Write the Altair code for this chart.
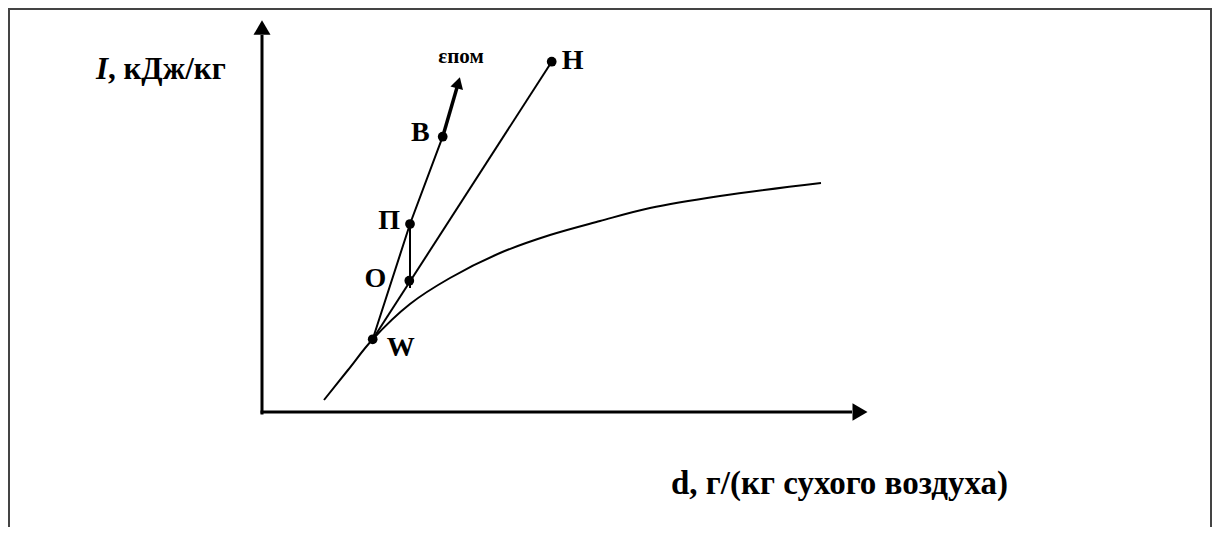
import altair as alt
import pandas as pd

# ---- data (diagram units: d along x, I along y) ----
point_names = ["W", "О", "П", "В", "Н"]
point_d = [11.07, 14.73, 14.80, 18.07, 28.97]
point_I = [7.27, 13.13, 18.80, 27.53, 35.03]

# saturation curve (phi = 100 %)
curve_d = [6.2, 8.6, 11.07, 14.8, 18.8, 23.8, 28.8, 33.8, 38.8, 45.8, 55.9]
curve_I = [1.2, 4.2, 7.27, 10.8, 13.4, 15.9, 17.7, 19.1, 20.4, 21.6, 22.9]

# room process line W -> П -> В and its direction arrow (epsilon)
eps_line_names = ["W", "П", "В"]
eps_arrow_d = [18.07, 19.50]
eps_arrow_I = [27.53, 32.44]
eps_head_d = [19.63]
eps_head_I = [32.92]

# mixing line W -> О -> Н
mix_line_names = ["W", "Н"]

# vertical heating П -> О
heat_d = [14.80, 14.80]
heat_I = [18.80, 12.40]

# axes (origin at 0,0)
y_axis_top = 37.7
y_head_I = 38.45
x_axis_right = 59.0
x_head_d = 59.8

y_title_main = ", кДж/кг"
y_title_sym = "I"
x_title = "d, г/(кг сухого воздуха)"
eps_label = "εпом"

# ---- frames ----
pts = pd.DataFrame({"name": point_names, "d": point_d, "I": point_I})
curve = pd.DataFrame({"d": curve_d, "I": curve_I, "o": list(range(len(curve_d)))})
lookup = {n: (dd, ii) for n, dd, ii in zip(point_names, point_d, point_I)}
eps_df = pd.DataFrame({"d": [lookup[n][0] for n in eps_line_names],
                       "I": [lookup[n][1] for n in eps_line_names],
                       "o": list(range(len(eps_line_names)))})
mix_df = pd.DataFrame({"d": [lookup[n][0] for n in mix_line_names],
                       "I": [lookup[n][1] for n in mix_line_names],
                       "o": list(range(len(mix_line_names)))})
heat_df = pd.DataFrame({"d": heat_d, "I": heat_I, "o": [0, 1]})
arrow_df = pd.DataFrame({"d": eps_arrow_d, "I": eps_arrow_I, "o": [0, 1]})
head_df = pd.DataFrame({"d": eps_head_d, "I": eps_head_I})

W, H = 1204, 519
xs = alt.Scale(domain=[-25.4, 95.0], nice=False, zero=False)
ys = alt.Scale(domain=[-11.5, 40.4], nice=False, zero=False)
FONT = "Liberation Serif"


def X(f="d"):
    return alt.X(f, type="quantitative", scale=xs, axis=None)


def Y(f="I"):
    return alt.Y(f, type="quantitative", scale=ys, axis=None)


one = alt.Data(values=[{}])
layers = []

# frame border
bc = "#444444"
layers.append(alt.Chart(one).mark_rule(color=bc, strokeWidth=2).encode(
    x=alt.value(1), y=alt.value(0), y2=alt.value(H)))
layers.append(alt.Chart(one).mark_rule(color=bc, strokeWidth=2).encode(
    x=alt.value(0), x2=alt.value(W), y=alt.value(1)))
layers.append(alt.Chart(one).mark_rule(color=bc, strokeWidth=2).encode(
    x=alt.value(W - 1), y=alt.value(0), y2=alt.value(H)))

# axes
yax = pd.DataFrame({"d": [0.0], "I0": [-0.25], "I1": [y_axis_top]})
xax = pd.DataFrame({"I": [0.0], "d0": [-0.15], "d1": [x_axis_right]})
layers.append(alt.Chart(yax).mark_rule(color="black", strokeWidth=3).encode(
    x=X("d"), y=Y("I0"), y2=alt.Y2("I1")))
layers.append(alt.Chart(xax).mark_rule(color="black", strokeWidth=3).encode(
    x=X("d0"), x2=alt.X2("d1"), y=Y("I")))
layers.append(alt.Chart(pd.DataFrame({"d": [0.0], "I": [y_head_I]})).mark_point(
    shape="triangle-up", size=289, filled=True, color="black", opacity=1).encode(x=X(), y=Y()))
layers.append(alt.Chart(pd.DataFrame({"d": [x_head_d], "I": [0.0]})).mark_point(
    shape="triangle-right", size=300, filled=True, color="black", opacity=1).encode(x=X(), y=Y()))

# curve
layers.append(alt.Chart(curve).mark_line(color="black", strokeWidth=2, interpolate="catmull-rom").encode(
    x=X(), y=Y(), order="o:Q"))
# process lines
for df, sw in [(eps_df, 2), (mix_df, 2), (heat_df, 2), (arrow_df, 3.5)]:
    layers.append(alt.Chart(df).mark_line(color="black", strokeWidth=sw).encode(
        x=X(), y=Y(), order="o:Q"))
layers.append(alt.Chart(head_df).mark_point(
    shape="triangle-up", size=170, angle=16, filled=True, color="black", opacity=1).encode(x=X(), y=Y()))

# state points
layers.append(alt.Chart(pts).mark_circle(size=95, color="black", opacity=1).encode(x=X(), y=Y()))

# point labels
label_style = {
    "Н": dict(align="left", dx=10, dy=-1),
    "В": dict(align="right", dx=-13, dy=-4),
    "П": dict(align="right", dx=-10, dy=-3),
    "О": dict(align="right", dx=-23, dy=-2),
    "W": dict(align="left", dx=14, dy=9),
}
for name, st in label_style.items():
    layers.append(alt.Chart(pts[pts["name"] == name]).mark_text(
        font=FONT, fontSize=28, fontWeight="bold", baseline="middle", color="black", **st
    ).encode(x=X(), y=Y(), text="name:N"))

# epsilon label
layers.append(alt.Chart(pd.DataFrame({"d": [19.9], "I": [34.9], "t": [eps_label]})).mark_text(
    font=FONT, fontSize=21, fontWeight="bold", baseline="alphabetic", align="center", color="black"
).encode(x=X(), y=Y(), text="t:N"))

# axis titles
layers.append(alt.Chart(pd.DataFrame({"d": [-15.4], "I": [34.2], "t": [y_title_sym]})).mark_text(
    font=FONT, fontSize=31, fontWeight="bold", fontStyle="italic", baseline="middle", align="right",
    color="black").encode(x=X(), y=Y(), text="t:N"))
layers.append(alt.Chart(pd.DataFrame({"d": [-15.4], "I": [34.2], "t": [y_title_main]})).mark_text(
    font=FONT, fontSize=31, fontWeight="bold", baseline="middle", align="left",
    color="black").encode(x=X(), y=Y(), text="t:N"))
layers.append(alt.Chart(pd.DataFrame({"d": [57.75], "I": [-7.2], "t": [x_title]})).mark_text(
    font=FONT, fontSize=33, fontWeight="bold", baseline="middle", align="center",
    color="black").encode(x=X(), y=Y(), text="t:N"))

chart = alt.layer(*layers).properties(
    width=W, height=H, padding=0,
    autosize=alt.AutoSizeParams(type="none"),
).configure_view(stroke=None).configure(background="white")

chart.save("out.html", embed_options={"renderer": "svg", "actions": False})
